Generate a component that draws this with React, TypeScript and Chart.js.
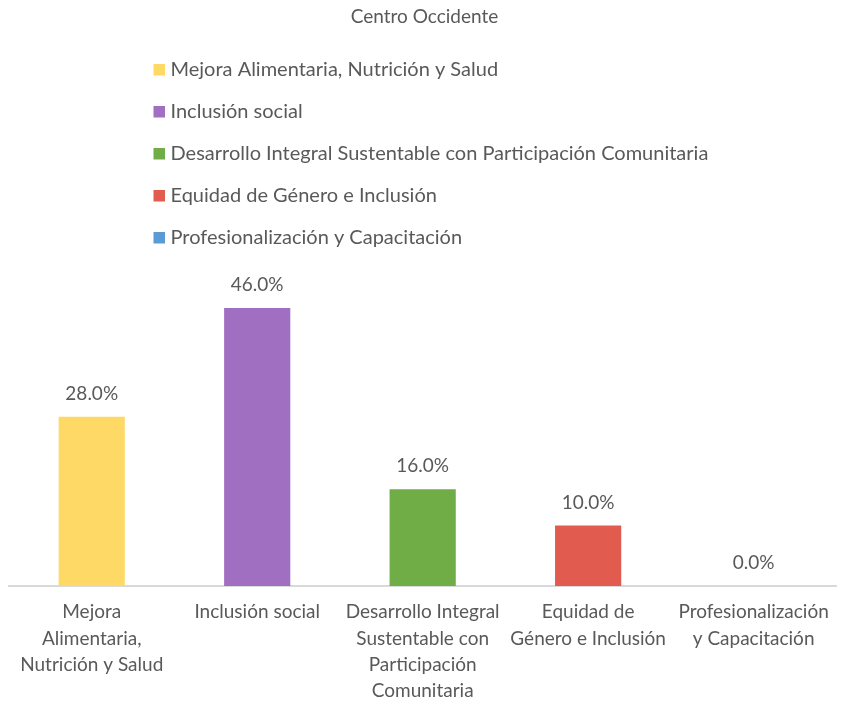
import React, { useEffect, useRef } from "react";
import { Chart, registerables } from "chart.js";

Chart.register(...registerables);

const TITLE = "Centro Occidente";
const categories = [
  "Mejora Alimentaria, Nutrición y Salud",
  "Inclusión social",
  "Desarrollo Integral Sustentable con Participación Comunitaria",
  "Equidad de Género e Inclusión",
  "Profesionalización y Capacitación",
];
const tickLines = [
  ["Mejora", "Alimentaria,", "Nutrición y Salud"],
  ["Inclusión social"],
  ["Desarrollo Integral", "Sustentable con", "Participación", "Comunitaria"],
  ["Equidad de", "Género e Inclusión"],
  ["Profesionalización", "y Capacitación"],
];
const values = [28.0, 46.0, 16.0, 10.0, 0.0];
const colors = ["#FFD966", "#A16FC1", "#70AD47", "#E15C4E", "#5B9BD5"];

const FONT = "Lato, 'Open Sans', sans-serif";
const TEXT = "#595959";

const labelsPlugin = {
  id: "barLabels",
  afterDatasetsDraw(chart: any) {
    const ctx = chart.ctx;
    const meta = chart.getDatasetMeta(0);
    ctx.save();
    ctx.font = `19px ${FONT}`;
    ctx.fillStyle = TEXT;
    ctx.textAlign = "center";
    ctx.textBaseline = "middle";
    meta.data.forEach((bar: any, i: number) => {
      const v = chart.data.datasets[0].data[i];
      ctx.fillText(v.toFixed(1) + "%", bar.x, bar.y - 23);
    });
    ctx.restore();
  },
};

const legendPlugin = {
  id: "customLegend",
  afterDraw(chart: any) {
    const ctx = chart.ctx;
    ctx.save();
    ctx.font = `20px ${FONT}`;
    ctx.textBaseline = "middle";
    ctx.textAlign = "left";
    const left = 153.5;
    const top = 69.5;
    const step = 42;
    categories.forEach((name, i) => {
      const y = top + i * step;
      ctx.fillStyle = colors[i];
      ctx.fillRect(left, y - 5.5, 11.5, 11.5);
      ctx.fillStyle = TEXT;
      ctx.fillText(name, left + 17, y);
    });
    ctx.restore();
  },
};

export default function App() {
  const ref = useRef<HTMLCanvasElement>(null);
  useEffect(() => {
    document.body.style.margin = "0";
    const chart = new Chart(ref.current!, {
      type: "bar",
      data: {
        labels: tickLines,
        datasets: [
          {
            label: TITLE,
            data: values,
            backgroundColor: colors,
            barPercentage: 0.4,
            categoryPercentage: 1,
          },
        ],
      },
      options: {
        animation: false,
        responsive: false,
        layout: { padding: { left: 9, right: 2, bottom: 0 } },
        plugins: {
          legend: { display: false },
          tooltip: { enabled: false },
          title: {
            display: true,
            text: TITLE,
            color: TEXT,
            font: { family: FONT, size: 19, weight: "normal" },
            padding: { top: 5, bottom: 256 },
          },
        },
        scales: {
          x: {
            grid: { display: false, drawTicks: false },
            border: { display: true, color: "#D9D9D9", width: 2 },
            ticks: {
              color: TEXT,
              font: { family: FONT, size: 19, lineHeight: 1.385 },
              autoSkip: false,
              maxRotation: 0,
              padding: 13,
            },
            afterFit(scale: any) {
              scale.height = 118;
            },
          },
          y: {
            display: false,
            min: 0,
            max: 50,
          },
        },
      },
      plugins: [labelsPlugin, legendPlugin],
    });
    return () => chart.destroy();
  }, []);
  return (
    <div style={{ width: 842, height: 704 }}>
      <canvas ref={ref} width={842} height={704} style={{ display: "block" }} />
    </div>
  );
}
